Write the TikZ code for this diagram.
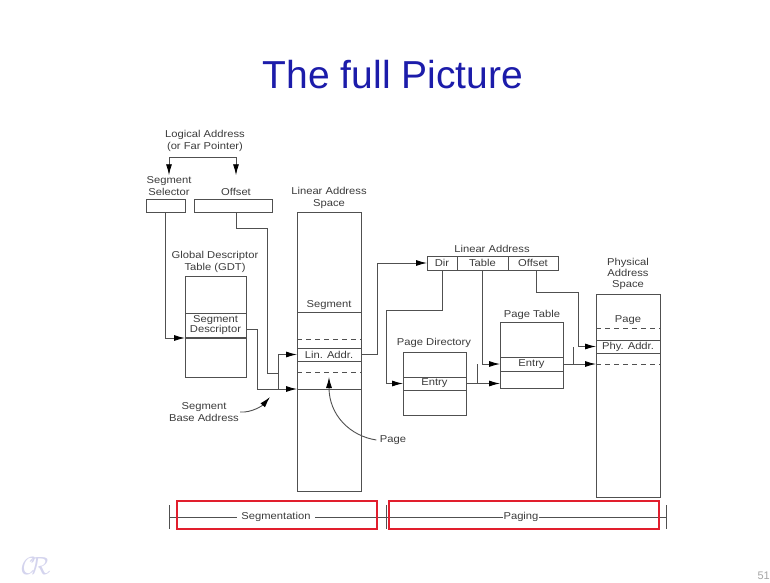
\documentclass[tikz,border=0pt]{standalone}
\usepackage{fontspec}
\setmainfont{Liberation Sans}
\newfontfamily\diagfont[FakeStretch=1.12]{Liberation Sans}
\usetikzlibrary{arrows.meta,calc}
\definecolor{titleblue}{RGB}{28,28,170}
\definecolor{inkgray}{RGB}{60,60,60}
\definecolor{linegray}{RGB}{80,80,80}
\definecolor{markred}{RGB}{225,30,45}
\definecolor{logoblue}{RGB}{212,212,238}

\begin{document}
\begin{tikzpicture}[x=1pt, y=-1pt,
    every node/.style={font=\diagfont\fontsize{10}{12}\selectfont, text=inkgray},
    lbl/.style={align=center, inner sep=1pt},
    box/.style={draw=linegray, line width=0.9pt, inner sep=0pt,
      outer sep=0pt, anchor=north west},
    slot/.style={box, align=center},
    wire/.style={draw=linegray, line width=0.9pt},
    link/.style={wire, -{Latex[length=11pt,width=6pt,color=black]}},
    divider/.style={draw=linegray, line width=0.9pt},
    pagecut/.style={divider, dash pattern=on 5pt off 4pt},
    redbox/.style={draw=markred, line width=1.8pt},
  ]
  \fill[white] (0,0) rectangle (770,582);
  \useasboundingbox (0,0) rectangle (770,582);

  \node[font=\normalfont\fontsize{39}{40}\selectfont, text=titleblue,
    anchor=base] (title) at (393,88) {The full Picture};

  % logical address and selector / offset
  \node[lbl] (logaddr) at (205,141) {Logical Address\\(or Far Pointer)};
  \node[lbl] (selt) at (169,186) {Segment\\Selector};
  \node[lbl] (offt) at (236,192) {Offset};
  \node[box, minimum width=39, minimum height=13] (sel) at (146,199) {};
  \node[box, minimum width=78, minimum height=13] (off) at (194,199) {};
  \coordinate (lsplit) at (205,157);
  \draw[link] (lsplit) -| (selt.north);
  \draw[link] (lsplit) -| (offt.north |- selt.north);

  % GDT
  \node[lbl] (gdtt) at (215,262) {Global Descriptor\\Table (GDT)};
  \node[box, minimum width=61, minimum height=101] (gdt) at (185,276) {};
  \node[slot, minimum width=61, minimum height=25,
    font=\diagfont\fontsize{10}{10}\selectfont] (sdesc) at (185,313)
    {Segment\\Descriptor};
  \draw[wire, line width=1.6pt] (sdesc.south west) -- (sdesc.south east);
  \draw[link] (sel.south) |- (sdesc.south west);

  % linear address space
  \node[lbl] (last) at (329,198) {Linear Address\\Space};
  \node[box, minimum width=64, minimum height=279] (las) at (297,212) {};
  \node (segt) at (329,305) {Segment};
  \foreach \y in {312,389}
    \draw[divider] (las.west |- 0,\y) -- (las.east |- 0,\y);
  \foreach \y in {339,372}
    \draw[pagecut] (las.west |- 0,\y) -- (las.east |- 0,\y);
  \node[slot, minimum width=64, minimum height=13] (linaddr) at (297,348) {Lin. Addr.};

  % base + offset
  \coordinate (segbase) at (las.west |- 0,389);
  \coordinate (sjoin) at (278,389);
  \coordinate (offjoin) at (278,373);
  \draw[wire] ([xshift=3pt]off.south) |- (267,228) |- (offjoin);
  \draw[link] ([yshift=-3.5pt]sdesc.east) -- ++(11,0) |- (segbase);
  \draw[wire] (sjoin) -- (sjoin |- linaddr.west);
  \draw[link] (sjoin |- linaddr.west) -- (linaddr.west);

  \node[lbl] (sbase) at (204,412) {Segment\\Base Address};
  \coordinate (sbtip) at (270,397);
  \draw[link] (sbase.east) .. controls (252,413) and (263,405) .. (sbtip);

  \node (pagel) at (393,440) {Page};
  \coordinate (pgtip) at (329,377);
  \draw[link] (pagel.west) .. controls (350,436) and (329,415) .. (pgtip);

  % linear address fields
  \node[lbl] (lat) at (492,249) {Linear Address};
  \node[slot, minimum width=30, minimum height=14] (dir) at (427,256) {Dir};
  \node[slot, minimum width=51, minimum height=14] (tbl) at (dir.north east) {Table};
  \node[slot, minimum width=50, minimum height=14] (ofs) at (tbl.north east) {Offset};
  \draw[link] (linaddr.east) -- ++(16,0) |- (dir.west);

  % page directory
  \node[lbl] (pdt) at (434,343) {Page Directory};
  \node[box, minimum width=63, minimum height=63] (pd) at (403,352) {};
  \node[slot, minimum width=63, minimum height=13] (pde) at (403,377) {Entry};
  \draw[link] (dir.south) |- (386,310) |- (pde.west);

  % page table
  \node[lbl] (ptt) at (532,315) {Page Table};
  \node[box, minimum width=63, minimum height=66] (pt) at (500,322) {};
  \node[slot, minimum width=63, minimum height=14] (pte) at (500,357) {Entry};
  \draw[link] (tbl.south) |- (pte.west);
  \draw[link] (pde.east) -- (pde.east -| pt.west);
  \coordinate (pjoin) at ($(pde.east)+(11,0)$);
  \draw[wire] (pjoin) -- (pjoin |- pte.west);

  % physical address space
  \node[lbl, font=\diagfont\fontsize{10}{11}\selectfont] (past) at (628,274)
    {Physical\\Address\\Space};
  \node[box, minimum width=64, minimum height=203] (pas) at (596,294) {};
  \node (pgt) at (628,320) {Page};
  \foreach \y in {328,364}
    \draw[pagecut] (pas.west |- 0,\y) -- (pas.east |- 0,\y);
  \node[slot, minimum width=64, minimum height=13] (phy) at (596,340) {Phy. Addr.};
  \draw[link] ([xshift=3pt]ofs.south) |- (578,292) |- (phy.west);
  \draw[link] (pte.east) -- (pte.east -| pas.west);
  \coordinate (fjoin) at ($(pte.east)+(10,0)$);
  \draw[wire] (fjoin) -- (fjoin |- phy.west);

  % bottom bar
  \draw[wire] (169,517) -- (666,517);
  \foreach \x in {169,386,666}
    \draw[wire] (\x,505) -- (\x,529);
  \node[fill=white, inner xsep=4pt] (segl) at (276,517) {Segmentation};
  \node[fill=white, inner xsep=1pt] (pagingl) at (521,517) {Paging};
  \draw[redbox] (177,501) rectangle (377,529);
  \draw[redbox] (389,501) rectangle (659,529);

  \node[text=logoblue, font=\fontsize{30}{30}\selectfont] (logo) at (36,566)
    {$\mathcal{C}\mkern-5mu\mathcal{R}$};
  \node[text=gray!70, font=\fontsize{11}{12}\selectfont, anchor=west] (pgno)
    at (754,576) {51};
\end{tikzpicture}
\end{document}
